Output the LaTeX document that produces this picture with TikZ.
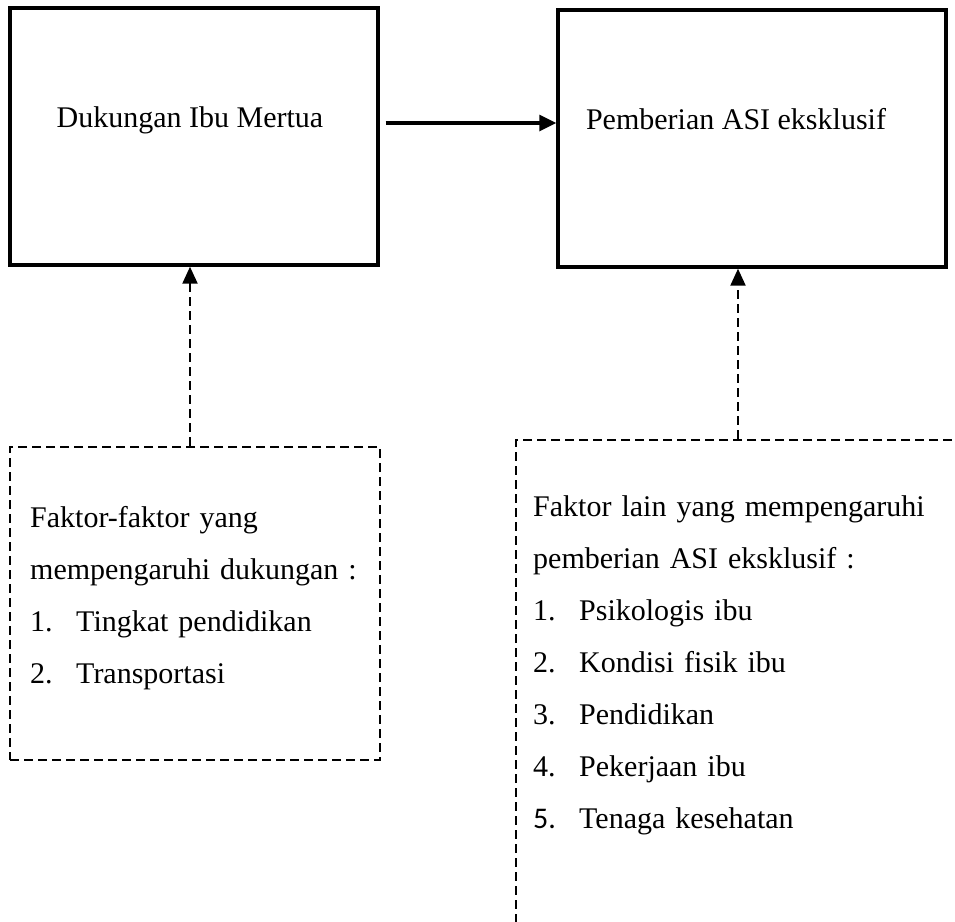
\documentclass[tikz,border=0pt]{standalone}
\usepackage{fontspec}
\setmainfont{Liberation Serif}
\newfontfamily\numfont{Carlito}
\usetikzlibrary{arrows.meta}
\newcommand{\itm}[2]{\makebox[46pt][l]{#1}#2}
\tikzset{
  mainbox/.style={draw, line width=3.4pt, inner sep=0pt},
  factorbox/.style={draw, line width=2.2pt, dash pattern=on 9pt off 5pt, inner sep=0pt},
  boxtext/.style={font=\fontsize{30}{52}\selectfont, inner sep=0pt},
  listtext/.style={font=\fontsize{30}{52}\selectfont, inner sep=0pt, align=left, anchor=base west},
  mainarrow/.style={line width=3.2pt, -{Triangle[length=17pt, width=16pt]}},
  dasharrow/.style={line width=2.2pt, dash pattern=on 9pt off 5pt, -{Triangle[length=17pt, width=15pt]}}
}
\begin{document}
\begin{tikzpicture}[x=1pt, y=-1pt]
    \useasboundingbox (0,0) rectangle (955,921);
    \clip (0,0) rectangle (955,921);
    \node (dukungan) [mainbox, minimum width=368pt, minimum height=257pt] at (194,136.5) {};
    \node (pemberian) [mainbox, minimum width=388pt, minimum height=257pt] at (752,138.5) {};
    \node (dukText) [boxtext, anchor=base] at (190,127) {Dukungan Ibu Mertua};
    \node (pembText) [boxtext, anchor=base] at (736,129) {Pemberian ASI eksklusif};
    \node (faktorA) [factorbox, minimum width=370pt, minimum height=313pt] at (195,603.5) {};
    \node (faktorB) [factorbox, minimum width=484pt, minimum height=560pt] at (758,720) {};
    \node (listA) [listtext, text width=350pt] at (30,527) {Faktor-faktor yang\\
      mempengaruhi dukungan :\\
      \itm{1.}{Tingkat pendidikan}\\
      \itm{2.}{Transportasi}};
    \node (listB) [listtext, text width=420pt] at (533,516) {Faktor lain yang mempengaruhi\\
      pemberian ASI eksklusif :\\
      \itm{1.}{Psikologis ibu}\\
      \itm{2.}{Kondisi fisik ibu}\\
      \itm{3.}{Pendidikan}\\
      \itm{4.}{Pekerjaan ibu}\\
      \itm{{\numfont 5.}}{Tenaga kesehatan}};
    \coordinate (midline) at (0,123);
    \draw[mainarrow] ([xshift=6pt]dukungan.east |- midline) -- (pemberian.west |- midline);
    \draw[dasharrow] (faktorA.north -| 190,0) -- (dukungan.south -| 190,0);
    \draw[dasharrow] (faktorB.north -| 738,0) -- (pemberian.south -| 738,0);
  \end{tikzpicture}
\end{document}
